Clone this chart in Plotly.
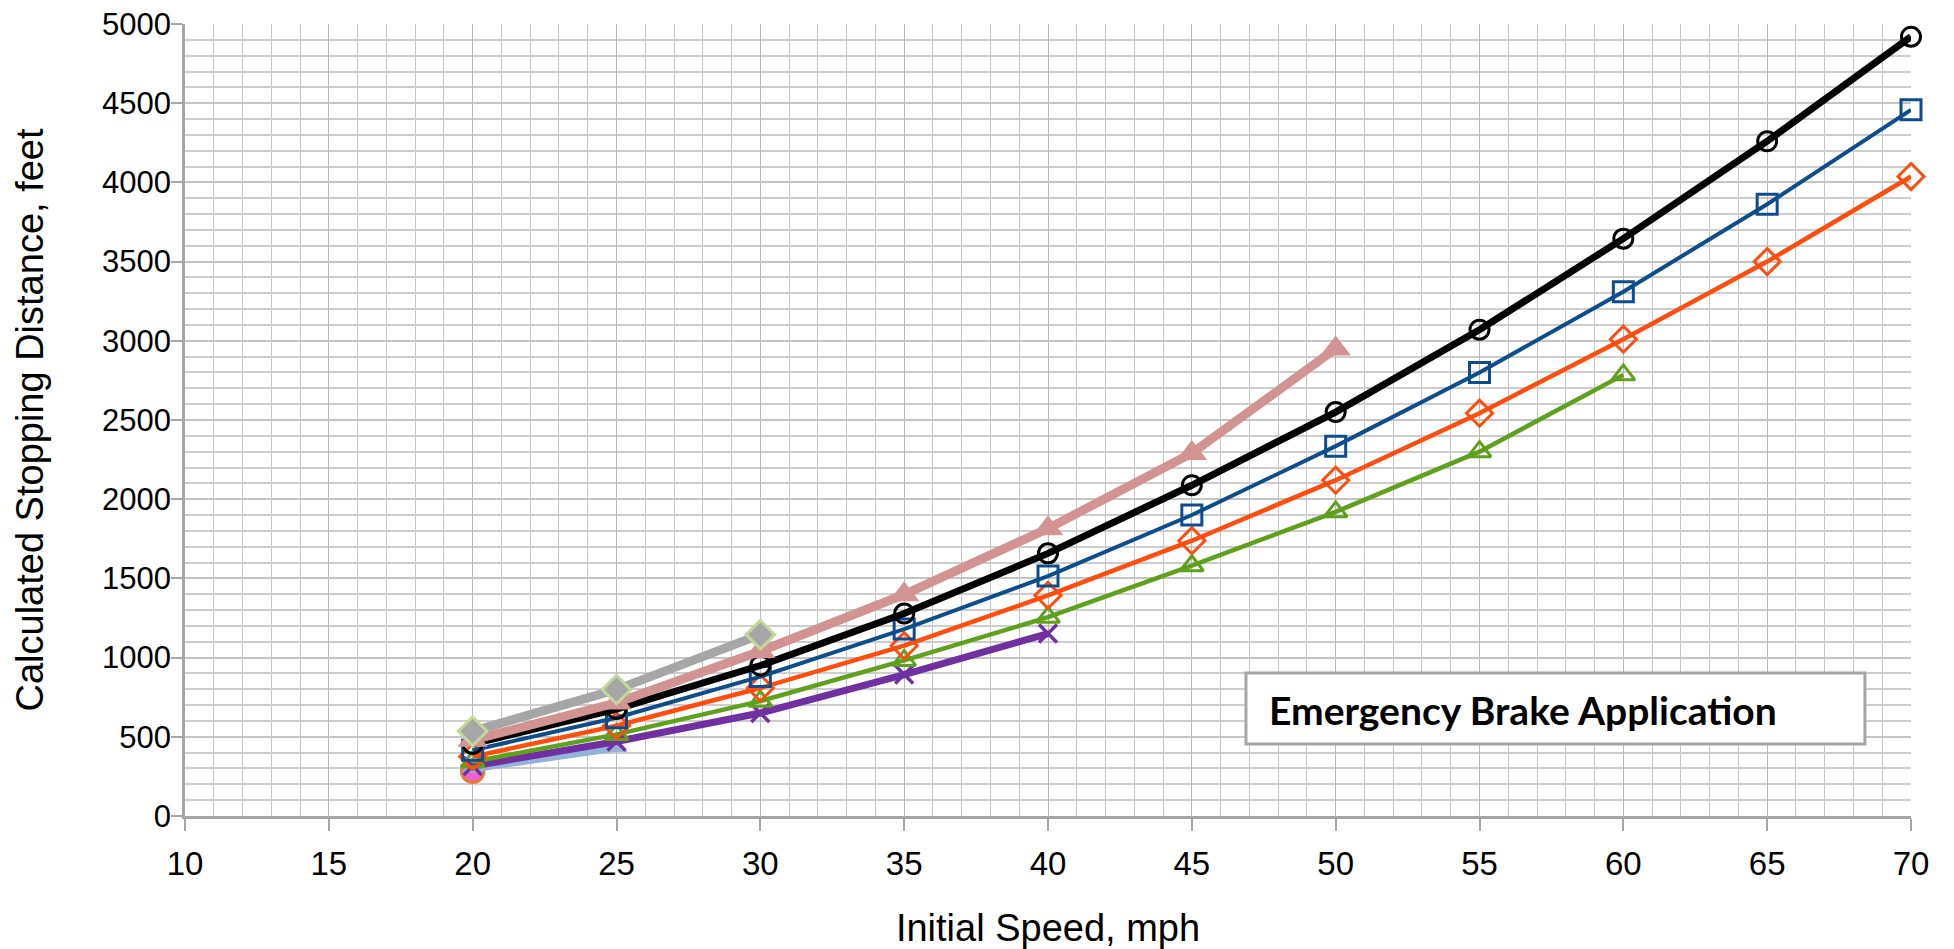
import plotly.graph_objects as go

# ---- data ----
speeds = [20, 25, 30, 35, 40, 45, 50, 55, 60, 65, 70]
black_vals = [455, 675, 950, 1278, 1658, 2088, 2550, 3070, 3645, 4260, 4920]
blue_vals = [415, 620, 880, 1180, 1515, 1900, 2335, 2800, 3310, 3862, 4458]
orange_vals = [375, 570, 808, 1075, 1393, 1738, 2120, 2543, 3010, 3500, 4037]
green_vals = [343, 515, 725, 982, 1255, 1580, 1920, 2300, 2785]
pink_vals = [480, 715, 1040, 1398, 1815, 2290, 2950]
gray_vals = [535, 798, 1145]
purple_vals = [316, 470, 650, 893, 1152]
lightblue_vals = [305, 435]
single_vals = [283]

x_ticks = [10, 15, 20, 25, 30, 35, 40, 45, 50, 55, 60, 65, 70]
y_ticks = [0, 500, 1000, 1500, 2000, 2500, 3000, 3500, 4000, 4500, 5000]

x_title = "Initial Speed, mph"
y_title = "Calculated Stopping Distance, feet"
box_text = "<b>Emergency Brake Application</b>"

fig = go.Figure()

def add(vals, color, lw, symbol, msize, mfill, mline_color, mline_w):
    fig.add_trace(go.Scatter(
        x=speeds[:len(vals)], y=vals, mode="lines+markers",
        line=dict(color=color, width=lw),
        marker=dict(symbol=symbol, size=msize, color=mfill,
                    line=dict(color=mline_color, width=mline_w)),
        showlegend=False, hoverinfo="x+y", cliponaxis=False))

add(single_vals, "#E07B39", 0, "circle", 22, "#EE5FE0", "#E07B39", 3.5)
add(lightblue_vals, "#95B3D7", 9, "triangle-up", 18, "#95B3D7", "#95B3D7", 1)
add(purple_vals, "#7030A0", 7, "x-thin-open", 18, "#7030A0", "#7030A0", 3.5)
add(green_vals, "#5FA01C", 4.5, "triangle-up-open", 20, "#5FA01C", "#5FA01C", 3)
add(orange_vals, "#FF4D0D", 4.5, "diamond-open", 20, "#FF4D0D", "#FF4D0D", 3)
add(blue_vals, "#0E4D8C", 4, "square-open", 20, "#0E4D8C", "#0E4D8C", 3)
add(black_vals, "#000000", 7, "circle-open", 19, "#000000", "#000000", 3)
add(pink_vals, "#D29393", 9, "triangle-up", 25, "#D29393", "#D29393", 1)
add(gray_vals, "#A6A6A6", 9, "diamond", 22, "#A6A6A6", "#C4D79B", 3)

x_tick_font = dict(family="Liberation Sans, Arial, sans-serif", size=33, color="#000000")
y_tick_font = dict(family="Liberation Sans, Arial, sans-serif", size=31, color="#000000")
title_font = dict(family="Liberation Sans, Arial, sans-serif", size=38, color="#000000")

fig.update_layout(
    width=1954, height=949,
    margin=dict(l=185, r=43, t=24, b=133),
    paper_bgcolor="white", plot_bgcolor="white",
    xaxis=dict(
        range=[10, 70], tickvals=x_ticks, ticktext=[str(v) for v in x_ticks],
        showgrid=True, gridcolor="#B8B8B8", gridwidth=1.2,
        minor=dict(dtick=1, showgrid=True, gridcolor="#C4C4C4", gridwidth=1.2),
        ticks="outside", ticklen=12, tickcolor="#A6A6A6", tickwidth=1.5,
        showline=True, linecolor="#A6A6A6", linewidth=3,
        zeroline=False, tickfont=x_tick_font, automargin=False,
        ticklabelstandoff=4, ticklabeloverflow="allow",
        title=dict(text=x_title, font=title_font, standoff=43),
    ),
    yaxis=dict(
        range=[0, 5000], tickvals=y_ticks, ticktext=[str(v) for v in y_ticks],
        showgrid=True, gridcolor="#C4C4C4", gridwidth=1.8,
        minor=dict(dtick=100, showgrid=True, gridcolor="#CDCDCD", gridwidth=1.8),
        ticks="outside", ticklen=11, tickcolor="#A6A6A6", tickwidth=1.5,
        showline=True, linecolor="#A6A6A6", linewidth=2.5,
        zeroline=False, tickfont=y_tick_font, automargin=False,
        ticklabelstandoff=-6, ticklabeloverflow="allow",
        title=dict(text=y_title, font=title_font, standoff=47),
    ),
    shapes=[dict(type="rect", xref="paper", yref="paper",
                 x0=0.6147, x1=0.9733, y0=0.091, y1=0.1807,
                 line=dict(color="#A6A6A6", width=3), fillcolor="white", layer="above")],
    annotations=[dict(text=box_text, xref="paper", yref="paper",
                      x=0.627, y=0.134, xanchor="left", yanchor="middle",
                      showarrow=False,
                      font=dict(family="Lato, Open Sans, sans-serif", size=39, color="#000000"))],
)

fig.write_html("out.html",
               config={"displayModeBar": False},
               post_script="document.body.style.margin='0';document.body.style.overflow='hidden';")
